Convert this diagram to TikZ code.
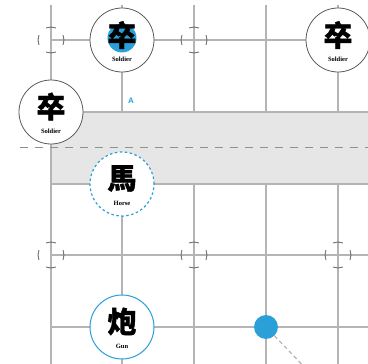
\documentclass[tikz,border=0pt]{standalone}
\usepackage{fontspec}
\newfontfamily\cjk{Noto Sans CJK SC}[BoldFeatures={FakeBold=1.2}]
\newfontfamily\lblfont{Liberation Serif}
\setsansfont{Liberation Sans}
\definecolor{gridc}{HTML}{B4B4B4}
\definecolor{bandc}{HTML}{E6E6E6}
\definecolor{blueC}{HTML}{2A9FD8}
\definecolor{ringc}{HTML}{5A5A5A}
\definecolor{markc}{HTML}{6E6E6E}
\tikzset{
  gridline/.style={draw=gridc, line width=1.1pt},
  piece/.style={circle, draw=ringc, line width=0.8pt, fill=white, minimum size=64pt, inner sep=0pt},
  gunpiece/.style={piece, draw=blueC, line width=1pt},
  horsepiece/.style={piece, draw=blueC, line width=1.2pt, dash pattern=on 2.5pt off 2.5pt},
  glyph/.style={font=\cjk\bfseries\fontsize{29}{29}\selectfont, inner sep=0pt},
  lbl/.style={font=\lblfont\bfseries\fontsize{6.5}{7}\selectfont, inner sep=0pt},
  bluedot/.style={circle, fill=blueC, inner sep=0pt, minimum size=#1},
  markline/.style={draw=markc, line width=0.9pt},
  marker/.pic={
    \foreach \a in {0,90,180,270}
      \draw[markline] ({\a-22}:13pt) arc[start angle={\a-22}, end angle={\a+22}, radius=13pt];
  }
}
\begin{document}
\begin{tikzpicture}[x=1pt, y=-1pt]
\useasboundingbox (0,0) rectangle (368,364);
\clip (0,0) rectangle (368,364);
% river band
\fill[bandc] (51,112) rectangle (368,184);
% grid
\foreach \x in {122,194,266,338} {
  \draw[gridline] (\x,5) -- (\x,112);
  \draw[gridline] (\x,184) -- (\x,364);
}
\draw[gridline] (51,5) -- (51,364);
\foreach \y in {40,112,184,255,327}
  \draw[gridline] (51,\y) -- (368,\y);
% river centre line
\draw[draw=gridc!80!black, line width=0.9pt, dash pattern=on 8pt off 7pt] (20,147) -- (368,147);
% markers
\path (51,40) pic {marker};
\path (194,40) pic {marker};
\path (51,255) pic {marker};
\path (194,255) pic {marker};
\path (338,255) pic {marker};
% pieces
\node[piece] (s1) at (122,40) {};
\node[bluedot=29pt] (bd1) at (122,38) {};
\node[glyph] at (122,35) {卒};
\node[lbl] at (122,59.5) {Soldier};

\node[piece] (s2) at (51,112) {};
\node[glyph] at (51,106.5) {卒};
\node[lbl] at (51,131.5) {Soldier};

\node[piece] (s3) at (338,40) {};
\node[glyph] at (338,35) {卒};
\node[lbl] at (338,59.5) {Soldier};

\node[horsepiece] (horse) at (122,184) {};
\node[glyph] at (122,178.5) {馬};
\node[lbl] at (122,203.5) {Horse};

\node[gunpiece] (gun) at (122,327) {};
\node[glyph] at (122,321.5) {炮};
\node[lbl] at (122,346.5) {Gun};

\node[font=\sffamily\bfseries\fontsize{8}{9}\selectfont, text=blueC, inner sep=0pt] (A) at (131,101) {A};

\node[bluedot=24pt] (dot) at (266,327) {};
\coordinate (tail) at (312,375);
\draw[draw=gridc, line width=1.2pt, dash pattern=on 4pt off 3pt] (dot) -- (tail);
\end{tikzpicture}
\end{document}
